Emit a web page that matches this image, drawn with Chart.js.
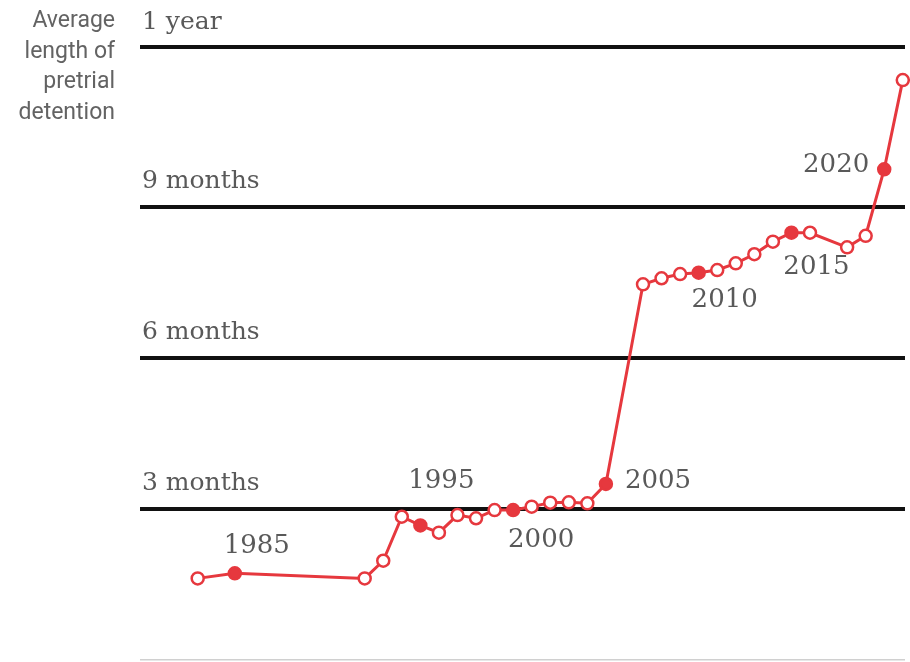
<!DOCTYPE html>
<html>
<head>
<meta charset="utf-8">
<script src="https://cdn.jsdelivr.net/npm/chart.js@4.4.1/dist/chart.umd.min.js"></script>
<style>
  html, body { margin: 0; padding: 0; background: #fff; }
  #wrap { width: 910px; height: 662px; position: relative; }
</style>
</head>
<body>
<div id="wrap"><canvas id="detentionChart"></canvas></div>
<script>
// Data: average length of pretrial detention, in days
const years = [1983, 1985, 1992, 1993, 1994, 1995, 1996, 1997, 1998, 1999, 2000,
    2001, 2002, 2003, 2004, 2005, 2007, 2008, 2009, 2010, 2011, 2012, 2013,
    2014, 2015, 2016, 2018, 2019, 2020, 2021];
const avgDays = [48.6, 51.6, 48.6, 59.1, 85.3, 80.1, 75.8, 86.3, 84.4, 89.3, 89.3,
    91.3, 93.7, 93.9, 93.3, 104.8, 223.7, 227.3, 229.8, 230.6, 232.2, 236.2, 241.6,
    249.1, 254.4, 254.4, 245.7, 252.6, 292.2, 345.3];
const labeledYears = [1985, 1995, 2000, 2005, 2010, 2015, 2020];
const gridDays = [0, 90, 180, 270, 365];
const gridLabels = ['', '3 months', '6 months', '9 months', '1 year'];
const axisTitle = ['Average', 'length of', 'pretrial', 'detention'];

const colors = {
    line: '#e6383e',
    text: '#595959',
    title: '#636363',
    grid: '#111111',
    base: '#d0d0d0'
};

// where each year label sits relative to its point
const labelPlacement = {
    1985: { align: 'center', dx: 22, dy: -27 },
    1995: { align: 'center', dx: 21, dy: -44 },
    2000: { align: 'center', dx: 28, dy: 30 },
    2005: { align: 'left', dx: 19, dy: -3 },
    2010: { align: 'center', dx: 26, dy: 28 },
    2015: { align: 'center', dx: 25, dy: 35 },
    2020: { align: 'right', dx: -15, dy: -4 }
};

const annotations = {
    id: 'annotations',
    afterDraw(chart) {
        const ctx = chart.ctx;
        const yScale = chart.scales.y;
        ctx.save();
        ctx.fillStyle = colors.text;

        // grid labels above each line
        ctx.font = '25px "DejaVu Serif"';
        ctx.textAlign = 'left';
        ctx.textBaseline = 'middle';
        gridDays.forEach((d, i) => {
            if (!gridLabels[i]) return;
            ctx.fillText(gridLabels[i], chart.chartArea.left + 2, yScale.getPixelForValue(d) - 25);
        });

        // axis title at the top left
        ctx.fillStyle = colors.title;
        ctx.font = '23px Roboto';
        ctx.textAlign = 'right';
        ctx.textBaseline = 'alphabetic';
        axisTitle.forEach((line, i) => {
            ctx.fillText(line, 115, 27 + i * 30.5);
        });

        // year labels next to the filled points
        const meta = chart.getDatasetMeta(0);
        ctx.fillStyle = colors.text;
        ctx.font = '26px "DejaVu Serif"';
        ctx.textBaseline = 'middle';
        years.forEach((yr, i) => {
            const p = labelPlacement[yr];
            if (!p) return;
            const pt = meta.data[i];
            ctx.textAlign = p.align;
            ctx.fillText(String(yr), pt.x + p.dx, pt.y + p.dy);
        });
        ctx.restore();
    }
};

const createDetentionChart = () => {
    const ctx = document.getElementById('detentionChart').getContext('2d');
    return new Chart(ctx, {
        type: 'line',
        data: {
            datasets: [{
                data: years.map((yr, i) => ({ x: yr, y: avgDays[i] })),
                borderColor: colors.line,
                borderWidth: 3,
                tension: 0,
                clip: false,
                pointRadius: 6,
                pointBorderWidth: 2.5,
                pointBorderColor: colors.line,
                pointBackgroundColor: c => {
                    const yr = years[c.dataIndex];
                    return labeledYears.includes(yr) ? colors.line : '#ffffff';
                }
            }]
        },
        options: {
            responsive: true,
            maintainAspectRatio: false,
            animation: false,
            layout: {
                autoPadding: false,
                padding: { left: 140, right: 5, top: 47, bottom: 2 }
            },
            plugins: {
                legend: { display: false },
                tooltip: { enabled: false }
            },
            scales: {
                x: {
                    type: 'linear',
                    display: false,
                    min: 1979.89,
                    max: 2021.12
                },
                y: {
                    min: 0,
                    max: 365,
                    afterBuildTicks: scale => {
                        scale.ticks = gridDays.map(v => ({ value: v }));
                    },
                    ticks: { display: false },
                    border: { display: false },
                    grid: {
                        drawTicks: false,
                        color: c => (c.tick && c.tick.value === 0) ? colors.base : colors.grid,
                        lineWidth: c => (c.tick && c.tick.value === 0) ? 1.5 : 4
                    }
                }
            }
        },
        plugins: [annotations]
    });
};

document.addEventListener('DOMContentLoaded', () => {
    const detentionChart = createDetentionChart();
});
</script>
</body>
</html>
